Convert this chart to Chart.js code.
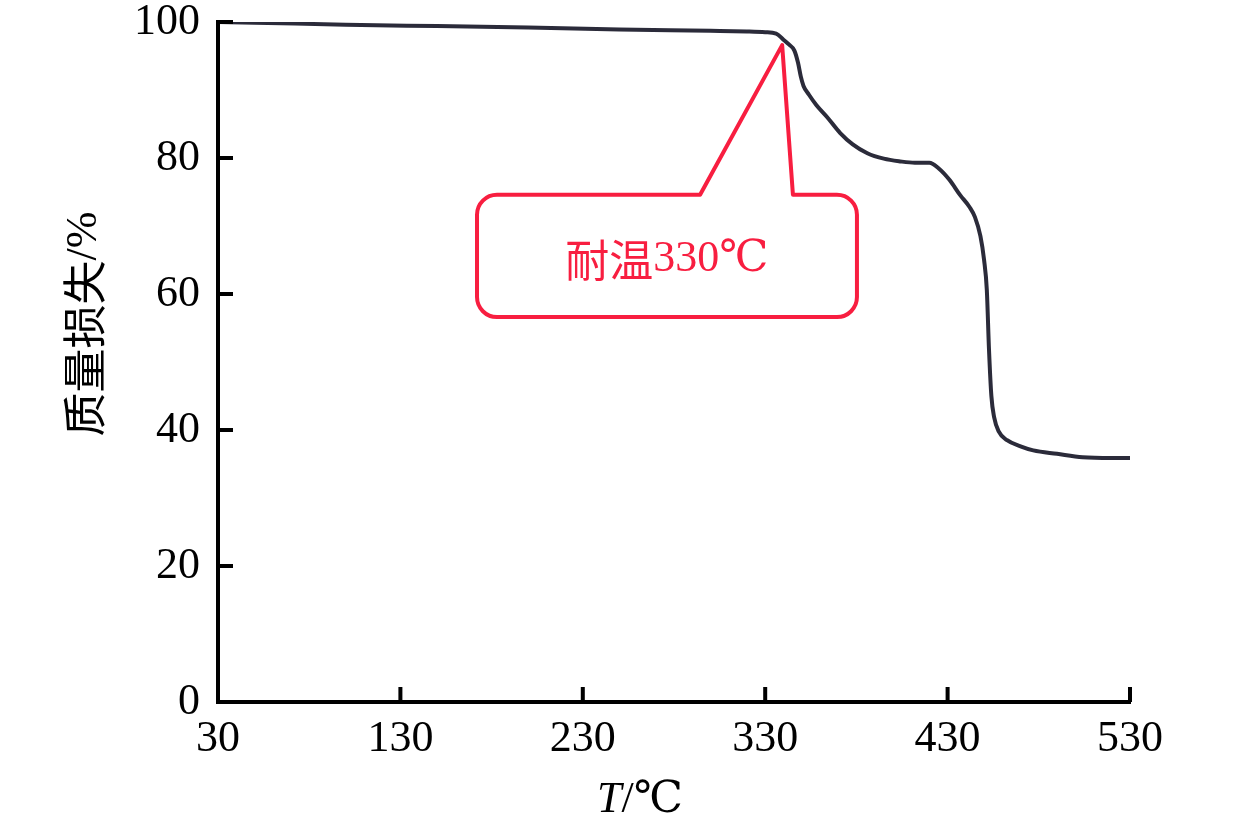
<!DOCTYPE html>
<html>
<head>
<meta charset="utf-8">
<script src="https://cdn.jsdelivr.net/npm/chart.js@4"></script>
<style>
html,body{margin:0;padding:0;background:#fff;}
#wrap{width:1260px;height:830px;}
</style>
</head>
<body>
<div id="wrap"><canvas id="c" width="1260" height="830"></canvas></div>
<script>
// ---- data ----
const temperatures = [30, 50, 100, 150, 200, 250, 300, 320, 330, 336, 340, 343, 346, 348, 349.5, 351, 354, 358, 364, 371, 378, 386, 395, 404, 412, 420, 425, 431, 437, 442, 445, 448, 450, 451.5, 452.7, 454, 455.5, 458, 462.6, 470, 477, 490, 504, 520, 530];
const massRemaining = [100.0, 99.9, 99.6, 99.4, 99.2, 98.9, 98.7, 98.6, 98.5, 98.3, 97.4, 96.7, 95.8, 94.0, 92.0, 90.6, 89.3, 87.8, 86.0, 83.7, 82.0, 80.7, 79.9, 79.5, 79.3, 79.3, 78.5, 76.8, 74.5, 72.8, 71.3, 68.5, 65.0, 60.6, 51.8, 45.0, 41.9, 39.8, 38.5, 37.6, 37.0, 36.5, 36.0, 35.9, 35.9];
const xTicks = [30, 130, 230, 330, 430, 530];
const yTicks = [0, 20, 40, 60, 80, 100];
const xTitleParts = [['T', 'italic'], ['/℃', 'normal']];
const yTitleParts = [['质量损失', 'normal'], ['/%', 'normal']];
const calloutParts = ['耐温', '330', '℃'];
// callout geometry in data units (temperature, mass)
const calloutTip = [339.3, 96.6];
const calloutBaseX = [294.3, 345.2];
const calloutBoxX = [172, 380.3];
const calloutBoxY = [74.6, 56.6];

const SERIF = '"Liberation Serif", "DejaVu Serif", "Noto Sans CJK SC", serif';
const CJK = '"Noto Sans CJK SC", serif';
const RED = '#f81e40';

function fontFor(txt, style) {
  const cjk = /[\u4e00-\u9fff]/.test(txt);
  return (style === 'italic' ? 'italic ' : '') + '44px ' + (cjk ? CJK : SERIF);
}
function drawParts(ctx, parts, cx, cy) {
  const ws = parts.map(p => { ctx.font = fontFor(p[0], p[1]); return ctx.measureText(p[0]).width; });
  let x0 = cx - ws.reduce((a, b) => a + b, 0) / 2;
  ctx.textAlign = 'left'; ctx.textBaseline = 'middle';
  parts.forEach((p, i) => { ctx.font = fontFor(p[0], p[1]); ctx.fillText(p[0], x0, cy); x0 += ws[i]; });
}

const deco = {
  id: 'deco',
  afterDatasetsDraw(chart) {
    const {ctx, scales:{x, y}} = chart;
    const tx = x.getPixelForValue(calloutTip[0]), ty = y.getPixelForValue(calloutTip[1]);
    const bl = x.getPixelForValue(calloutBoxX[0]), br = x.getPixelForValue(calloutBoxX[1]);
    const bt = y.getPixelForValue(calloutBoxY[0]), bb = y.getPixelForValue(calloutBoxY[1]);
    const p1 = x.getPixelForValue(calloutBaseX[0]), p2 = x.getPixelForValue(calloutBaseX[1]);
    const r = 20;
    ctx.save();
    ctx.strokeStyle = RED; ctx.lineWidth = 4; ctx.lineJoin = 'round';
    ctx.fillStyle = '#fff';
    ctx.beginPath();
    ctx.moveTo(bl + r, bt);
    ctx.lineTo(p1, bt);
    ctx.lineTo(tx, ty);
    ctx.lineTo(p2, bt);
    ctx.lineTo(br - r, bt);
    ctx.arcTo(br, bt, br, bt + r, r);
    ctx.lineTo(br, bb - r);
    ctx.arcTo(br, bb, br - r, bb, r);
    ctx.lineTo(bl + r, bb);
    ctx.arcTo(bl, bb, bl, bb - r, r);
    ctx.lineTo(bl, bt + r);
    ctx.arcTo(bl, bt, bl + r, bt, r);
    ctx.closePath();
    ctx.fill();
    ctx.stroke();
    ctx.fillStyle = RED;
    drawParts(ctx, calloutParts.map(t => [t, 'normal']), (bl + br) / 2, (bt + bb) / 2 + 4);
    ctx.restore();
  },
  afterDraw(chart) {
    const {ctx, scales:{x, y}, chartArea:a} = chart;
    ctx.save();
    ctx.strokeStyle = '#000'; ctx.lineWidth = 4;
    ctx.beginPath();
    xTicks.forEach(v => { const px = x.getPixelForValue(v); ctx.moveTo(px, a.bottom); ctx.lineTo(px, a.bottom - 15); });
    yTicks.forEach(v => { const py = y.getPixelForValue(v); ctx.moveTo(a.left, py); ctx.lineTo(a.left + 15, py); });
    ctx.stroke();
    ctx.fillStyle = '#000';
    drawParts(ctx, xTitleParts, 640, 800);
    ctx.translate(84, 324);
    ctx.rotate(-Math.PI / 2);
    drawParts(ctx, yTitleParts, 0, 0);
    ctx.restore();
  }
};

new Chart(document.getElementById('c'), {
  type: 'line',
  data: {
    datasets: [{
      data: temperatures.map((t, i) => ({x: t, y: massRemaining[i]})),
      borderColor: '#2b2b3a',
      borderWidth: 4,
      pointRadius: 0,
      fill: false,
      cubicInterpolationMode: 'monotone'
    }]
  },
  options: {
    responsive: false,
    animation: false,
    events: [],
    layout: {padding: {top: 22, right: 130, left: 0, bottom: 0}},
    plugins: {legend: {display: false}, tooltip: {enabled: false}},
    scales: {
      x: {
        type: 'linear', min: 30, max: 530,
        afterBuildTicks(s) { s.ticks = xTicks.map(v => ({value: v})); },
        afterFit(s) { s.height = 128; s.paddingLeft = 0; s.paddingRight = 0; },
        grid: {display: false, drawTicks: false},
        border: {display: true, color: '#000', width: 4},
        ticks: {color: '#000', padding: 15, font: {family: SERIF, size: 44, lineHeight: 1}, maxRotation: 0}
      },
      y: {
        type: 'linear', min: 0, max: 100,
        afterBuildTicks(s) { s.ticks = yTicks.map(v => ({value: v})); },
        afterFit(s) { s.width = 218; s.paddingTop = 0; s.paddingBottom = 0; },
        grid: {display: false, drawTicks: false},
        border: {display: true, color: '#000', width: 4},
        ticks: {color: '#000', padding: 18, font: {family: SERIF, size: 44, lineHeight: 1}}
      }
    }
  },
  plugins: [deco]
});
</script>
</body>
</html>
